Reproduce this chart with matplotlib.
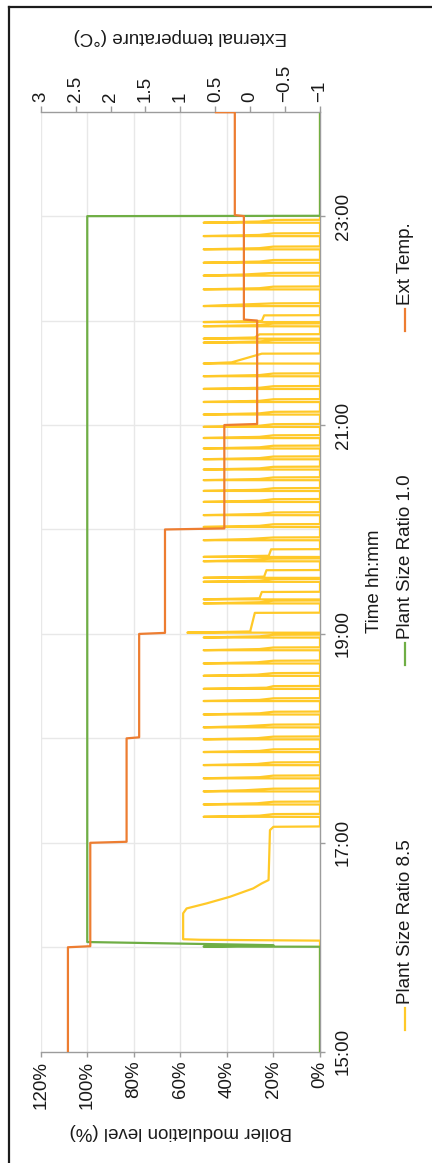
import matplotlib
matplotlib.use('Agg')
import matplotlib.pyplot as plt
from matplotlib.lines import Line2D

plt.rcParams['font.family'] = ['Liberation Sans', 'DejaVu Sans']

# ---------------- data ----------------
# time in minutes after 15:00
hour_ticks = [0, 120, 240, 360, 480]
hour_labels = ['15:00', '17:00', '19:00', '21:00', '23:00']
hour_grid = [60, 120, 180, 240, 300, 360, 420, 480]
boiler_ticks = [0, 20, 40, 60, 80, 100, 120]
boiler_labels = ['0%', '20%', '40%', '60%', '80%', '100%', '120%']
temp_ticks = [-1, -0.5, 0, 0.5, 1, 1.5, 2, 2.5, 3]
temp_labels = ['\u22121', '\u22120.5', '0', '0.5', '1', '1.5', '2', '2.5', '3']

# External temperature (deg C), hourly steps
temp_hours = [0, 60, 120, 180, 240, 300, 360, 420, 480, 540]
temp_values = [2.61, 2.29, 1.77, 1.59, 1.22, 0.37, -0.10, 0.09, 0.22, 0.49]

# Plant size ratio 1.0 (%)
green_t = [0, 60.3, 60.4, 61.2, 63.0, 480, 480.2, 540]
green_v = [0, 0, 50, 20, 100, 100, 0, 0]

# Plant size ratio 8.5 (%) : warm-up phase
yellow_warm_t = [0, 63.8, 64.3, 64.6, 79.5, 82.3, 85.2, 89.0, 93.8, 96.7, 98.6, 127.3, 129.2, 129.4]
yellow_warm_v = [0, 0, 51.5, 58.8, 58.8, 57.3, 48.7, 38.7, 28.7, 25.0, 22.1, 21.5, 20.0, 0]

# Plant size ratio 8.5 : on/off cycles (start minute, peak %, level after drop %, level at end %, burn minutes)
cycle_start = [134.9, 142.0, 149.5, 157.0, 164.6, 172.1, 179.4, 186.3, 193.7, 201.4, 208.4, 215.9, 223.0,
               230.6, 237.9, 240.7, 257.5, 259.8, 269.9, 272.2, 281.7, 284.2, 293.8, 301.4, 308.2, 315.8,
               322.1, 328.3, 334.4, 340.3, 346.5, 352.5, 358.9, 366.0, 373.2, 380.7, 388.0, 395.3, 407.3,
               409.6, 416.7, 419.1, 428.3, 437.9, 445.8, 453.2, 460.9, 468.5, 476.2]
cycle_peak = [50, 50, 50, 50, 50, 50, 50, 50, 50, 50, 50, 50, 50,
              50, 50, 57, 50, 50, 50, 50, 50, 50, 50, 50, 50, 50,
              50, 50, 50, 50, 50, 50, 50, 50, 50, 50, 50, 50, 50,
              50, 50, 50, 50, 50, 50, 50, 50, 50, 50]
cycle_mid = [26, 27, 32, 26, 27, 26, 27, 32, 26, 26, 23, 27, 27,
             26, 26, 30, 26, 26, 26, 24, 32, 22, 31, 26, 26, 26,
             26, 26, 26, 26, 26, 26, 26, 26, 26, 26, 26, 38, 26,
             28, 26, 25, 38, 26, 32, 26, 26, 26, 26]
cycle_end = [20, 20, 20, 20, 20, 20, 20, 20, 20, 20, 20, 20, 20,
             20, 20, 28, 20, 25, 20, 23, 20, 21, 20, 20, 20, 20,
             20, 20, 20, 20, 20, 20, 20, 20, 20, 20, 20, 25, 20,
             26, 20, 24, 20, 20, 20, 20, 20, 20, 20]
cycle_len = [1.6, 1.6, 1.6, 1.6, 1.6, 1.6, 1.6, 1.6, 1.6, 1.6, 1.6, 1.6, 1.6,
             1.6, 1.6, 11.4, 1.6, 4.3, 1.6, 4.4, 1.6, 4.4, 1.6, 1.6, 1.6, 1.6,
             1.6, 1.6, 1.6, 1.6, 1.6, 1.6, 1.6, 1.6, 1.6, 1.6, 1.6, 5.7, 1.6,
             2.5, 1.6, 3.9, 1.6, 1.6, 1.6, 1.6, 1.6, 1.6, 1.6]

# ---------------- build series ----------------
yt = list(yellow_warm_t)
yv = list(yellow_warm_v)
for s, p, m, e, d in zip(cycle_start, cycle_peak, cycle_mid, cycle_end, cycle_len):
    yt += [s, s + 0.05, s + 0.7, s + d, s + d + 0.1]
    yv += [0, p, m, e, 0]
yt.append(540)
yv.append(0)

tt, tv = [], []
for i in range(len(temp_hours) - 1):
    t0 = temp_hours[i] + (0.6 if i > 0 else 0)
    t1 = temp_hours[i + 1] if i < len(temp_hours) - 2 else 539.7
    tt += [t0, t1]
    tv += [temp_values[i], temp_values[i]]
tt.append(539.7)
tv.append(temp_values[-1])

# ---------------- figure ----------------
C_Y = '#FFC928'
C_G = '#6FAE45'
C_O = '#ED7D31'
AX_C = '#9c9c9c'
GRID_C = '#e8e8e8'
TXT = '#1a1a1a'
FS = 13.5

fig = plt.figure(figsize=(4.32, 11.63), dpi=100)
W, H = 432, 1163
L, R, T, B = 40.7, 320, 111.7, 1051.7
ax = fig.add_axes([L / W, 1 - B / H, (R - L) / W, (B - T) / H])

ax.plot(yv, yt, color=C_Y, lw=1.6, zorder=3, solid_joinstyle='round')
ax.plot(green_v, green_t, color=C_G, lw=1.6, zorder=4)

ax.set_xlim(120, 0)
ax.set_ylim(0, 540)

for g in boiler_ticks:
    ax.axvline(g, color=GRID_C, lw=1, zorder=0)
for g in hour_grid:
    ax.axhline(g, color=GRID_C, lw=1, zorder=0)

ax.set_xticks(boiler_ticks)
ax.set_xticklabels(boiler_labels)
ax.yaxis.tick_right()
ax.yaxis.set_label_position('right')
ax.set_yticks(hour_ticks)
ax.set_yticklabels(hour_labels)
ax.tick_params(axis='x', direction='out', length=3.6, width=1, color=AX_C,
               labelrotation=90, labelsize=FS, labelcolor=TXT, pad=3)
ax.tick_params(axis='y', direction='out', length=3.6, width=1, color=AX_C,
               labelrotation=90, labelsize=FS, labelcolor=TXT, pad=7)
for lbl in ax.get_yticklabels():
    lbl.set_va('center')

for sp in ['left', 'top']:
    ax.spines[sp].set_visible(False)
for sp in ['bottom', 'right']:
    ax.spines[sp].set_color(AX_C)
    ax.spines[sp].set_linewidth(1)

ax.set_xlabel('Boiler modulation level (%)', rotation=180, fontsize=FS, color=TXT, labelpad=10)
ax.set_ylabel('Time hh:mm', rotation=90, fontsize=FS, color=TXT, labelpad=10)

ax2 = ax.twiny()
ax2.plot(tv, tt, color=C_O, lw=1.6, zorder=5)
ax2.set_xlim(3, -1)
ax2.set_ylim(0, 540)
ax2.set_xticks(temp_ticks)
ax2.set_xticklabels(temp_labels)
ax2.tick_params(axis='x', direction='out', length=4.2, width=1, color=AX_C,
                labelrotation=90, labelsize=FS, labelcolor=TXT, pad=3)
for sp in ['left', 'right', 'bottom']:
    ax2.spines[sp].set_visible(False)
ax2.spines['top'].set_color(AX_C)
ax2.spines['top'].set_linewidth(1)
ax2.set_xlabel('External temperature (\u00b0C)', rotation=180, fontsize=FS, color=TXT, labelpad=17)

# ---------------- legend (rotated) ----------------
leg_x = 405 / W
leg_items = [('Plant Size Ratio 8.5', C_Y, 1030), ('Plant Size Ratio 1.0', C_G, 665), ('Ext Temp.', C_O, 331)]
for label, col, ypix in leg_items:
    y0 = 1 - ypix / H
    fig.add_artist(Line2D([leg_x, leg_x], [y0, y0 + 22 / H], color=col, lw=1.6,
                          transform=fig.transFigure))
    fig.text(leg_x, y0 + 26 / H, label, rotation=90, ha='center', va='bottom',
             fontsize=FS, color=TXT)

# outer frame (top and left edges)
fig.add_artist(Line2D([8.5 / W, 1], [1 - 7 / H, 1 - 7 / H], color='#1c1c1c', lw=1.6,
                      transform=fig.transFigure))
fig.add_artist(Line2D([8.5 / W, 8.5 / W], [0, 1 - 7 / H], color='#1c1c1c', lw=1.6,
                      transform=fig.transFigure))

fig.savefig('out.png', dpi=100)
